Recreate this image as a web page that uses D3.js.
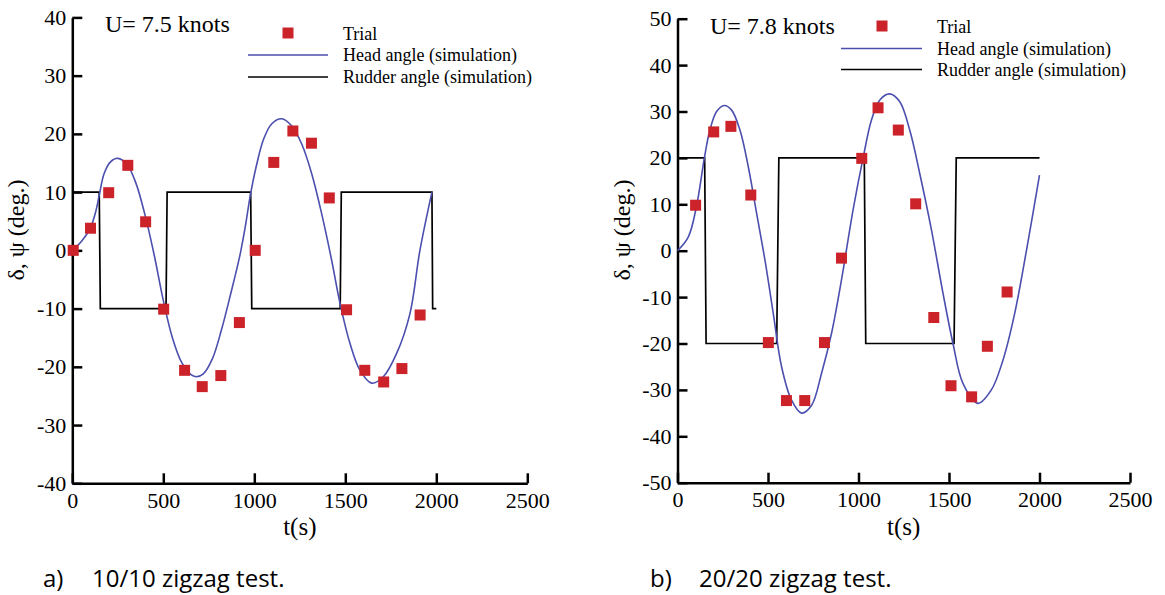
<!DOCTYPE html>
<html lang="en">
<head>
<meta charset="UTF-8">
<title>zigzag tests</title>
<style>
  body { margin: 0; background: #fff; }
  svg { display: block; }
  .serif { font-family: "Liberation Serif", "Times New Roman", serif; fill: #000; }
  .caption { font-family: "Open Sans", sans-serif; font-size: 24px; fill: #000; }
</style>
</head>
<body>
<svg id="svg" width="1165" height="595"></svg>
<script src="https://d3js.org/d3.v7.min.js"></script>
<script>
// ---- a) 10/10 zigzag, U = 7.5 knots ----
var trialTimeA = [5, 100, 200, 305, 403, 502, 617, 714, 816, 918, 1005, 1107, 1212, 1314, 1412, 1507, 1607, 1711, 1811, 1911];
var trialAngleA = [0, 3.8, 9.9, 14.6, 4.9, -10.1, -20.6, -23.4, -21.5, -12.4, 0, 15.1, 20.5, 18.4, 9.0, -10.2, -20.6, -22.6, -20.3, -11.1];

var headTimeA = [0, 50, 100, 130, 150, 175, 210, 250, 300, 350, 400, 450, 500, 550, 600, 650, 680, 720, 770, 820, 870, 920, 950, 980,
  1015, 1050, 1095, 1150, 1205, 1260, 1315, 1370, 1425, 1471, 1526, 1581, 1645, 1709, 1782, 1855, 1910, 1976];
var headAngleA = [0, 1.5, 3.9, 6.8, 9.8, 13.2, 15.2, 15.8, 14.8, 11.5, 6, -0.8, -8.6, -15, -19.2, -21.3, -21.7, -21.2, -18.6, -13.6, -7.5, -1, 4, 9.8,
  15, 19, 21.7, 22.6, 21.4, 18.3, 13.2, 6.3, -1.7, -9.1, -16, -20.6, -22.8, -21.7, -17.7, -10.9, 0, 10];

var rudderTimeA = [0, 148, 154, 515, 521, 980, 986, 1472, 1478, 1976, 1980, 2000];
var rudderAngleA = [10, 10, -10, -10, 10, 10, -10, -10, 10, 10, -10, -10];

// ---- b) 20/20 zigzag, U = 7.8 knots ----
var trialTimeB = [100, 200, 295, 405, 502, 602, 703, 812, 906, 1018, 1108, 1220, 1316, 1416, 1511, 1625, 1712, 1821];
var trialAngleB = [9.8, 25.6, 26.8, 12, -19.8, -32.3, -32.3, -19.8, -1.6, 19.9, 30.8, 26, 10.1, -14.4, -29.1, -31.5, -20.6, -8.9];

var headTimeB = [0, 60, 106, 148, 179, 216, 258, 299, 345, 391, 437, 483, 529, 575, 630, 685, 741, 796, 851, 906, 970,
  1025, 1072, 1118, 1173, 1228, 1283, 1338, 1403, 1467, 1522, 1577, 1660, 1734, 1798, 1863, 1930, 2000];
var headAngleB = [0, 3, 9.8, 19.9, 26, 30, 31.3, 30.3, 26, 18.1, 8.1, -2, -13.5, -25, -32.2, -35, -33.3, -26.4, -17.8, -6.3, 8.8,
  19.9, 28.2, 32.5, 33.8, 32.1, 26, 16.7, 4.5, -9.2, -20, -28.6, -32.9, -30, -23.6, -13.5, 0.5, 16.3];

var rudderTimeB = [0, 150, 158, 548, 560, 1032, 1040, 1528, 1540, 2000];
var rudderAngleB = [20, 20, -20, -20, 20, 20, -20, -20, 20, 20];

var xTicks = [0, 500, 1000, 1500, 2000, 2500];
var yTicksA = [-40, -30, -20, -10, 0, 10, 20, 30, 40];
var yTicksB = [-50, -40, -30, -20, -10, 0, 10, 20, 30, 40, 50];

var legendLabels = ["Trial", "Head angle (simulation)", "Rudder angle (simulation)"];

var svg = d3.select("#svg");
svg.append("rect").attr("width", 1165).attr("height", 595).attr("fill", "#fff");

function zip(a, b) {
  return a.map(function (d, i) { return [d, b[i]]; });
}

// plain hyphen minus like the original
function fmt(d) { return String(d); }

function styleAxis(sel) {
  sel.attr("font-family", "Liberation Serif, Times New Roman, serif").attr("font-size", 22);
  sel.select(".domain").attr("stroke", "#000").attr("stroke-width", 2.5);
  sel.selectAll(".tick line").attr("stroke", "#000").attr("stroke-width", 2.5);
  sel.selectAll(".tick text")
    .attr("class", "serif")
    .style("font-size", "22px")
    .attr("fill", "#000");
}

function panel(opt) {
  var x = d3.scaleLinear().domain([0, 2500]).range([opt.left, opt.right]);
  var y = d3.scaleLinear().domain(opt.yDomain).range([opt.bottom, opt.top]);
  var g = svg.append("g");

  g.append("g")
    .attr("transform", "translate(0," + opt.bottom + ")")
    .call(d3.axisBottom(x).tickValues(xTicks).tickFormat(fmt)
      .tickSizeInner(-10).tickSizeOuter(0).tickPadding(9))
    .call(styleAxis);

  g.append("g")
    .attr("transform", "translate(" + opt.left + ",0)")
    .call(d3.axisLeft(y).tickValues(opt.yTicks).tickFormat(fmt)
      .tickSizeInner(-10).tickSizeOuter(0).tickPadding(6))
    .call(styleAxis);

  var line = d3.line().x(function (d) { return x(d[0]); }).y(function (d) { return y(d[1]); });

  g.append("path")
    .datum(zip(opt.rudderTime, opt.rudderAngle))
    .attr("fill", "none").attr("stroke", "#000").attr("stroke-width", 1.7)
    .attr("d", line);

  g.append("path")
    .datum(zip(opt.headTime, opt.headAngle))
    .attr("fill", "none").attr("stroke", "#4b4fae").attr("stroke-width", 1.6)
    .attr("d", line.curve(d3.curveCatmullRom.alpha(0.5)));

  var s = 11;
  g.selectAll(".trial")
    .data(zip(opt.trialTime, opt.trialAngle))
    .enter().append("rect")
    .attr("class", "trial")
    .attr("x", function (d) { return x(d[0]) - s / 2; })
    .attr("y", function (d) { return y(d[1]) - s / 2; })
    .attr("width", s).attr("height", s)
    .attr("fill", "#cc2229");

  // labels
  g.append("text").attr("class", "serif")
    .attr("x", (opt.left + opt.right) / 2).attr("y", opt.bottom + 52)
    .attr("text-anchor", "middle").style("font-size", "25px")
    .text("t(s)");

  g.append("text").attr("class", "serif")
    .attr("transform", "translate(" + opt.yLabelX + ",230) rotate(-90)")
    .attr("text-anchor", "middle").style("font-size", "24px")
    .text("δ, ψ (deg.)");

  g.append("text").attr("class", "serif")
    .attr("x", opt.titleX).attr("y", opt.titleY)
    .style("font-size", "24px")
    .text(opt.title);

  // legend
  var L = opt.legend;
  g.append("rect")
    .attr("x", L.markX - s / 2).attr("y", L.y0 - s / 2)
    .attr("width", s).attr("height", s).attr("fill", "#cc2229");
  g.append("line")
    .attr("x1", L.lineX1).attr("x2", L.lineX2).attr("y1", L.y1).attr("y2", L.y1)
    .attr("stroke", "#4b4fae").attr("stroke-width", 1.6);
  g.append("line")
    .attr("x1", L.lineX1).attr("x2", L.lineX2).attr("y1", L.y2).attr("y2", L.y2)
    .attr("stroke", "#000").attr("stroke-width", 1.7);
  [L.y0 + 1, L.y1, L.y2].forEach(function (yy, i) {
    g.append("text").attr("class", "serif")
      .attr("x", L.textX).attr("y", yy + 6)
      .style("font-size", "18px")
      .text(legendLabels[i]);
  });

  // caption
  g.append("text").attr("class", "caption")
    .attr("x", opt.capX).attr("y", 587).text(opt.capLetter);
  g.append("text").attr("class", "caption")
    .attr("x", opt.capX + 49).attr("y", 587).text(opt.caption);
}

panel({
  left: 72.3, right: 527.3, top: 17.4, bottom: 483.3,
  yDomain: [-40, 40], yTicks: yTicksA,
  trialTime: trialTimeA, trialAngle: trialAngleA,
  headTime: headTimeA, headAngle: headAngleA,
  rudderTime: rudderTimeA, rudderAngle: rudderAngleA,
  yLabelX: 24, title: "U= 7.5 knots", titleX: 105, titleY: 32,
  legend: { markX: 288, y0: 33, lineX1: 248, lineX2: 328, y1: 55, y2: 77, textX: 343 },
  capX: 43, capLetter: "a)", caption: "10/10 zigzag test."
});

panel({
  left: 677.5, right: 1130, top: 18.7, bottom: 482.7,
  yDomain: [-50, 50], yTicks: yTicksB,
  trialTime: trialTimeB, trialAngle: trialAngleB,
  headTime: headTimeB, headAngle: headAngleB,
  rudderTime: rudderTimeB, rudderAngle: rudderAngleB,
  yLabelX: 630, title: "U= 7.8 knots", titleX: 710, titleY: 34,
  legend: { markX: 882, y0: 26, lineX1: 841, lineX2: 922, y1: 48.5, y2: 69.5, textX: 937 },
  capX: 650, capLetter: "b)", caption: "20/20 zigzag test."
});
</script>
</body>
</html>
